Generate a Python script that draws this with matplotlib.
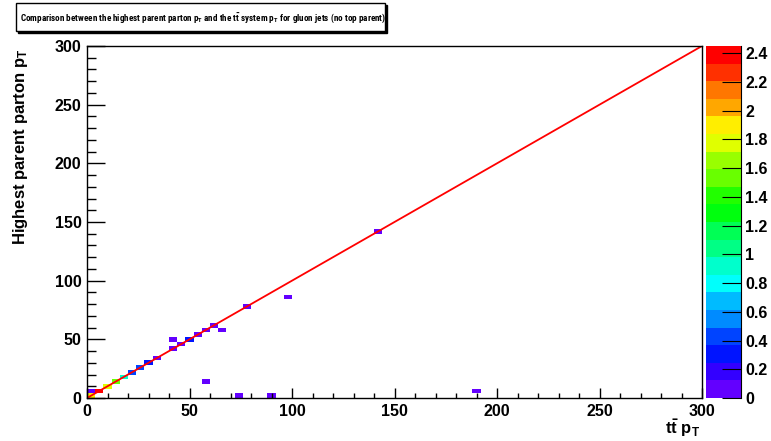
import colorsys
import numpy as np
import matplotlib
matplotlib.use("Agg")
import matplotlib.pyplot as plt
from matplotlib.colors import ListedColormap, BoundaryNorm
from matplotlib.patches import Rectangle
from matplotlib.ticker import MultipleLocator

# filled bins (bin centres, 4 GeV bins) and their contents
tt_pt = [2, 2, 6, 10, 14, 18, 22, 26, 30, 34, 42, 42, 46, 50, 54, 58, 62, 66,
         78, 58, 74, 90, 98, 142, 190]
parent_pt = [2, 6, 6, 10, 14, 18, 22, 26, 30, 34, 42, 50, 46, 50, 54, 58, 62, 58,
             78, 14, 2, 2, 86, 142, 6]
weight = [1.9, 0.08, 2.4, 1.78, 1.55, 0.9, 0.42, 0.38, 0.3, 0.1, 0.08, 0.08, 0.08,
          0.3, 0.08, 0.08, 0.08, 0.08, 0.08, 0.08, 0.08, 0.08, 0.08, 0.08, 0.08]

edges = np.arange(0, 304, 4)
z_max = 2.45
n_levels = 20
z_ticks = [0, 0.2, 0.4, 0.6, 0.8, 1, 1.2, 1.4, 1.6, 1.8, 2, 2.2, 2.4]

# ROOT "pretty palette": hue 280 -> 0, 20 contours picked out of 50 colours
cols = []
for k in range(n_levels):
    idx = int((k + 0.99) * 50 / n_levels)
    hue = 280 - (idx + 1) * 5.6
    cols.append(colorsys.hls_to_rgb(hue / 360.0, 0.5, 1.0))
cmap = ListedColormap(cols)
norm = BoundaryNorm(np.linspace(0, z_max, n_levels + 1), n_levels)

plt.rcParams['font.family'] = ['Liberation Sans', 'DejaVu Sans']
plt.rcParams['font.weight'] = 'bold'
plt.rcParams['mathtext.fontset'] = 'custom'
plt.rcParams['mathtext.rm'] = 'Liberation Sans:bold'
plt.rcParams['mathtext.bf'] = 'Liberation Sans:bold'
plt.rcParams['mathtext.it'] = 'Liberation Sans:bold'
plt.rcParams['mathtext.sf'] = 'Roboto Condensed:bold'

H, _, _ = np.histogram2d(tt_pt, parent_pt, bins=[edges, edges], weights=weight)
H = np.ma.masked_equal(H.T, 0)

W, Hpx = 771, 441
fig = plt.figure(figsize=(W / 100, Hpx / 100), dpi=100)
ax = fig.add_axes([87 / W, 1 - 398 / Hpx, 615 / W, 352 / Hpx])

ax.pcolormesh(edges, edges, H, cmap=cmap, norm=norm)
ax.plot([0, 300], [0, 300], color='red', lw=1.3)

ax.set_xlim(0, 300)
ax.set_ylim(0, 300)
ax.xaxis.set_major_locator(MultipleLocator(50))
ax.xaxis.set_minor_locator(MultipleLocator(10))
ax.yaxis.set_major_locator(MultipleLocator(50))
ax.yaxis.set_minor_locator(MultipleLocator(10))
ax.tick_params(axis='both', which='both', direction='in', top=False, right=False,
               labelsize=11.5, width=1)
ax.tick_params(axis='x', which='major', length=7.5, pad=4)
ax.tick_params(axis='x', which='minor', length=3.6)
ax.tick_params(axis='y', which='major', length=13, pad=4)
ax.tick_params(axis='y', which='minor', length=6.5)
for s in ax.spines.values():
    s.set_linewidth(1)

fig.text(700 / W, 1 - 434 / Hpx, r'$\mathrm{t\bar{t}}$ p$_\mathrm{T}$', ha='right',
         va='baseline', fontsize=12)
fig.text(21 / W, 1 - 48 / Hpx, r'Highest parent parton p$_\mathrm{T}$', rotation=90,
         ha='center', va='top', fontsize=12)

# colour bar
cax = fig.add_axes([706 / W, 1 - 398 / Hpx, 35 / W, 352 / Hpx])
levels = np.linspace(0, z_max, n_levels + 1)
cax.pcolormesh([0, 1], levels, levels[:-1].reshape(-1, 1) + 1e-6, cmap=cmap, norm=norm)
cax.set_xlim(0, 1)
cax.set_ylim(0, z_max)
cax.set_xticks([])
cax.yaxis.tick_right()
cax.set_yticks(z_ticks)
cax.set_yticklabels([f'{v:g}' for v in z_ticks])
cax.tick_params(axis='y', direction='in', length=13.5, labelsize=11.5, pad=3)
for name in ['left', 'top', 'bottom']:
    cax.spines[name].set_visible(False)

# title box with shadow
fig.patches.append(Rectangle((18 / W, 1 - 33 / Hpx), 369 / W, 28 / Hpx,
                             transform=fig.transFigure, facecolor='black',
                             edgecolor='black', zorder=1))
fig.patches.append(Rectangle((16 / W, 1 - 31 / Hpx), 369 / W, 28 / Hpx,
                             transform=fig.transFigure, facecolor='white',
                             edgecolor='black', lw=1, zorder=2))
fig.text(20 / W, 1 - 18 / Hpx,
         r'Comparison between the highest parent parton p$_\mathsf{T}$ and the '
         r'$\mathsf{t\bar{t}}$ system p$_\mathsf{T}$ for gluon jets (no top parent)',
         family=['Roboto Condensed', 'Liberation Sans'], fontsize=6.55,
         ha='left', va='center', zorder=3)

fig.savefig('out.png', dpi=100)
